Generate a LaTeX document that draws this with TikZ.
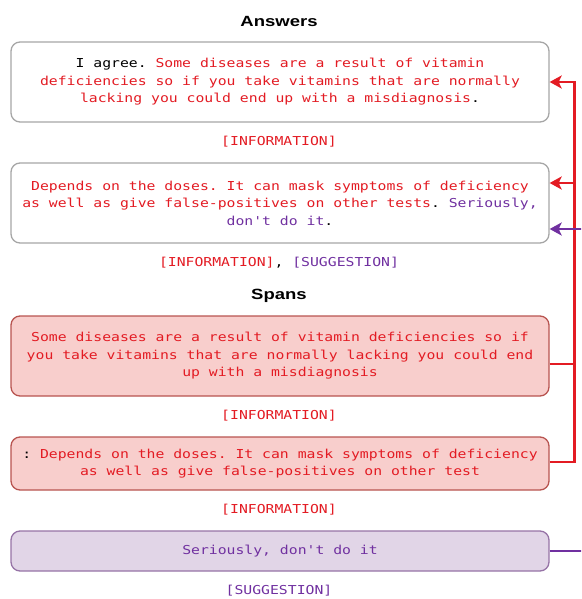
\documentclass[tikz,border=0pt]{standalone}
\usepackage{fontspec}
\usepackage{xcolor}
\usepackage{tikz}
\usetikzlibrary{arrows.meta}

\newfontfamily\boxfont{DejaVu Sans Mono}[FakeStretch=1.2,Ligatures=TeXOff]
\newfontfamily\headfont{Liberation Sans}[FakeStretch=1.25]
\definecolor{infored}{HTML}{E31B23}
\definecolor{sugpurple}{HTML}{7030A0}
\definecolor{spanfill}{HTML}{F8CECC}
\definecolor{spanline}{HTML}{B85450}
\definecolor{sugfill}{HTML}{E1D5E7}
\definecolor{sugline}{HTML}{9673A6}
\newcommand{\infotxt}[1]{\textcolor{infored}{#1}}
\newcommand{\sugtxt}[1]{\textcolor{sugpurple}{#1}}
\frenchspacing

\begin{document}
\begin{tikzpicture}[x=1pt, y=-1pt, every node/.style={font=\boxfont\fontsize{12.3}{17.5}\selectfont, align=center, inner sep=0pt},
  head/.style={font=\headfont\bfseries\fontsize{14.8}{17}\selectfont},
  answer/.style={draw=black!35, line width=1.3pt, fill=white, rounded corners=9pt, minimum width=538pt, minimum height=80pt},
  infospan/.style={answer, draw=spanline, fill=spanfill, text=infored},
  sugspan/.style={answer, draw=sugline, fill=sugfill, text=sugpurple},
  infolink/.style={draw=infored, line width=2.4pt, -{Stealth[length=12pt, width=13pt, inset=3pt]}},
  suglink/.style={draw=sugpurple, line width=2.4pt, -{Stealth[length=12pt, width=13pt, inset=3pt]}}]
  \useasboundingbox (0,0) rectangle (581,599);
  \clip (0,0) rectangle (581,599);
  % answers
  \node[head] (anshead) at (279,21) {Answers};
  \node[answer] (ans1) at (280,82) {I agree. \infotxt{Some diseases are a result of vitamin}\\
    \infotxt{deficiencies so if you take vitamins that are normally}\\
    \infotxt{lacking you could end up with a misdiagnosis}.};
  \node (ans1tag) at (279,142) {\infotxt{[INFORMATION]}};
  \node[answer] (ans2) at (280,203) {\infotxt{Depends on the doses. It can mask symptoms of deficiency}\\
    \infotxt{as well as give false-positives on other tests}. \sugtxt{Seriously,}\\
    \sugtxt{don't do it}.};
  \node (ans2tag) at (279,263) {\infotxt{[INFORMATION]}, \sugtxt{[SUGGESTION]}};
  % spans
  \node[head] (spanhead) at (279,296) {Spans};
  \node[infospan] (span1) at (280,356) {Some diseases are a result of vitamin deficiencies so if\\
    you take vitamins that are normally lacking you could end\\
    up with a misdiagnosis};
  \node (span1tag) at (279,416) {\infotxt{[INFORMATION]}};
  \node[infospan, minimum height=53pt] (span2) at (280,463.5) {\textcolor{black}{:} Depends on the doses. It can mask symptoms of deficiency\\
    as well as give false-positives on other test};
  \node (span2tag) at (279,510) {\infotxt{[INFORMATION]}};
  \node[sugspan, minimum height=40pt] (span3) at (280,551) {Seriously, don't do it};
  \node (span3tag) at (279,591) {\sugtxt{[SUGGESTION]}};
  % links
  \draw[infolink] ([yshift=1.5pt]span2.east) -| ([xshift=25pt]ans1.east) -- (ans1.east);
  \draw[infolink] ([yshift=-8pt]span1.east) -- ++(25,0) |- ([yshift=20pt]ans2.east);
  \draw[suglink] (span3.east) -- ++(40,0) |- ([yshift=-26pt]ans2.east);
\end{tikzpicture}
\end{document}
